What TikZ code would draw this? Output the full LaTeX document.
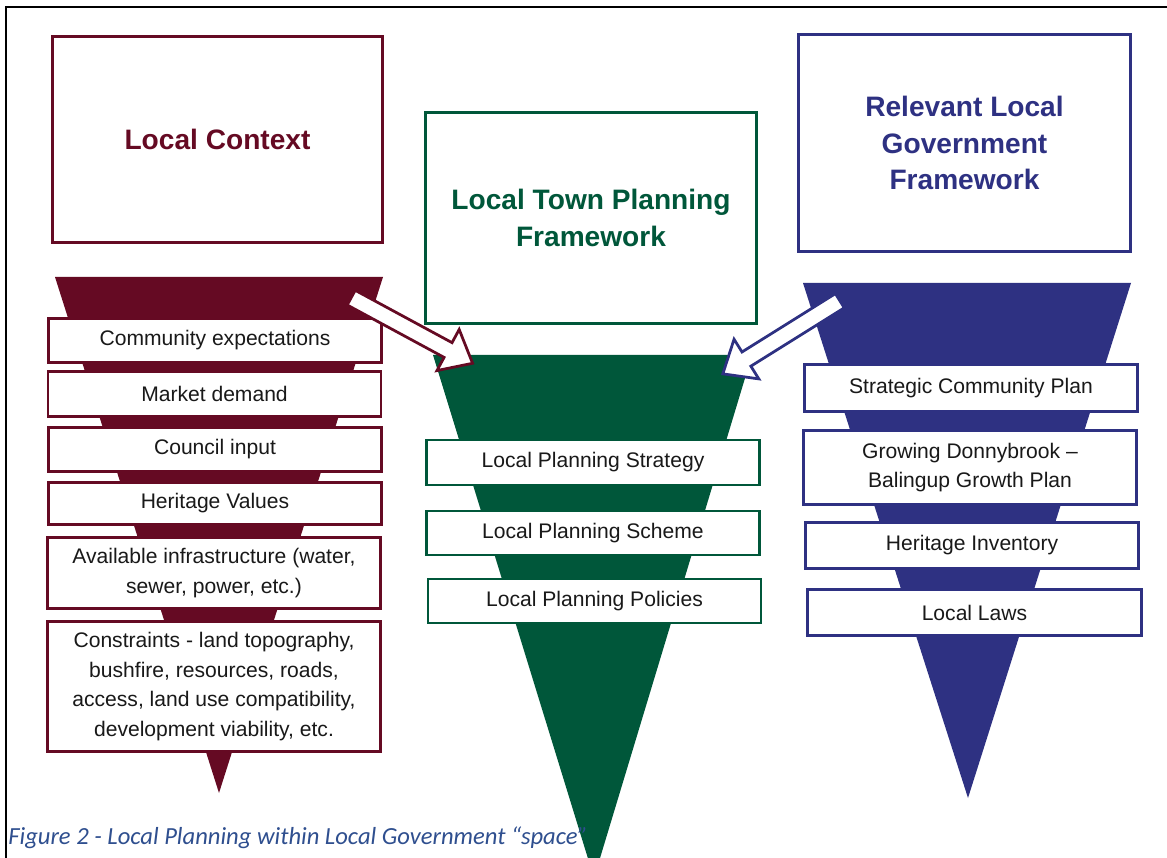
\documentclass[tikz,border=0pt]{standalone}
\usepackage{fontspec}
\setmainfont{Liberation Sans}
\newfontfamily\captionfont{Carlito}
\usetikzlibrary{shapes.arrows}
\definecolor{ctxred}{HTML}{650A23}
\definecolor{plangreen}{HTML}{00573A}
\definecolor{govblue}{HTML}{2E3182}
\definecolor{capblue}{HTML}{2F4F8F}
\tikzset{
  >=stealth,
  headbox/.style={draw, line width=0.06cm, fill=white, align=center, inner sep=0pt,
    font=\fontsize{16}{21}\selectfont\bfseries},
  itembox/.style={draw, line width=0.05cm, fill=white, align=center, inner sep=0pt,
    text=black!90, minimum width=6.67cm, font=\fontsize{12}{17}\selectfont},
  feedarrow/.style={single arrow, draw, line width=0.055cm, fill=white, inner sep=0pt,
    inner ysep=0.14cm, minimum height=2.76cm, single arrow head extend=0.3cm,
    single arrow tip angle=80, anchor=tail}
}

\begin{document}
\begin{tikzpicture}[x=0.02cm,y=-0.02cm]
        \clip (0,0) rectangle (1167,858);
        \fill[white] (0,0) rectangle (1167,858);
        \draw[line width=0.04cm] (6,858) -- (6,7) -- (1167,7);

        % funnels
        \fill[ctxred] (55,277) -- (383,277) -- (219,793) -- cycle;
        \fill[plangreen] (433,355) -- (752,355) -- (594,878) -- cycle;
        \fill[govblue] (803,283) -- (1131,283) -- (968,798) -- cycle;

        % headings
        \node[headbox, draw=ctxred, text=ctxred, minimum width=6.6cm, minimum height=4.12cm]
          (ctx) at (217.5,139.5) {Local Context};
        \node[headbox, draw=plangreen, text=plangreen, minimum width=6.62cm, minimum height=4.22cm]
          (plan) at (591,218) {Local Town Planning\\ Framework};
        \node[headbox, draw=govblue, text=govblue, minimum width=6.64cm, minimum height=4.34cm]
          (gov) at (964.5,143) {Relevant Local\\ Government\\ Framework};

        % local context items
        \node[itembox, draw=ctxred, minimum height=0.89cm] (ctx1) at (215,340.5) {Community expectations};
        \node[itembox, draw=ctxred, minimum height=0.91cm] (ctx2) at (214.5,394) {Market demand};
        \node[itembox, draw=ctxred, minimum height=0.89cm] (ctx3) at (215,449.5) {Council input};
        \node[itembox, draw=ctxred, minimum height=0.85cm] (ctx4) at (215,503.5) {Heritage Values};
        \node[itembox, draw=ctxred, minimum height=1.43cm] (ctx5) at (214,573)
          {Available infrastructure (water,\\ sewer, power, etc.)};
        \node[itembox, draw=ctxred, minimum height=2.61cm] (ctx6) at (214,686.5)
          {Constraints - land topography,\\ bushfire, resources, roads,\\ access, land use compatibility,\\ development viability, etc.};

        % planning items
        \node[itembox, draw=plangreen, minimum height=0.91cm] (plan1) at (593,462.5) {Local Planning Strategy};
        \node[itembox, draw=plangreen, minimum height=0.89cm] (plan2) at (593,533) {Local Planning Scheme};
        \node[itembox, draw=plangreen, minimum height=0.89cm] (plan3) at (594.5,601) {Local Planning Policies};

        % government items
        \node[itembox, draw=govblue, minimum height=0.95cm] (gov1) at (971,388) {Strategic Community Plan};
        \node[itembox, draw=govblue, minimum height=1.49cm] (gov2) at (970,467.5)
          {Growing Donnybrook –\\ Balingup Growth Plan};
        \node[itembox, draw=govblue, minimum height=0.93cm] (gov3) at (972,545.5) {Heritage Inventory};
        \node[itembox, draw=govblue, minimum height=0.93cm, minimum width=6.69cm] (gov4) at (974.5,612.5) {Local Laws};

        % arrows into the planning funnel
        \coordinate (ctxtail) at (350,297);
        \coordinate (govtail) at (841,300);
        \node[feedarrow, draw=ctxred, rotate=-28.4] (ctxarrow) at (ctxtail) {};
        \node[feedarrow, draw=govblue, rotate=212] (govarrow) at (govtail) {};

        \node[anchor=west, inner sep=0pt, text=capblue, font=\captionfont\itshape\fontsize{14}{16}\selectfont]
          (caption) at (8,838) {Figure 2 - Local Planning within Local Government “space”};
      \end{tikzpicture}
\end{document}
